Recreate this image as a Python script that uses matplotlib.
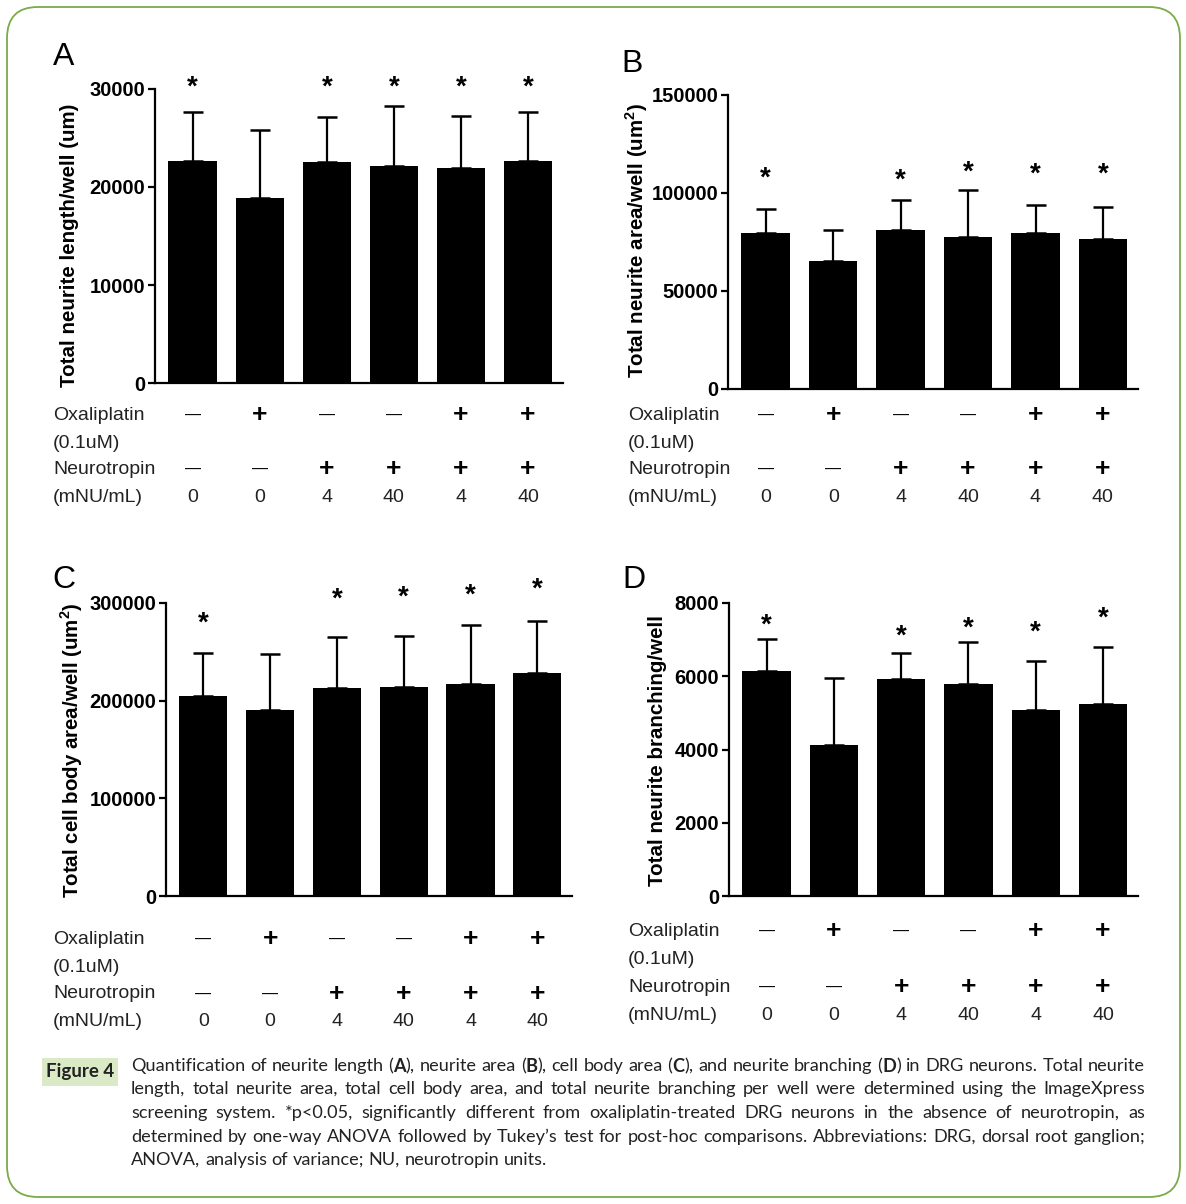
import re
import numpy as np
import matplotlib
matplotlib.use('Agg')
import matplotlib.pyplot as plt
from matplotlib.patches import FancyBboxPatch, Rectangle
from matplotlib.transforms import blended_transform_factory

W, H, DPI = 1186, 1204, 100

plt.rcParams['font.family'] = ['Liberation Sans', 'DejaVu Sans']
plt.rcParams['mathtext.fontset'] = 'custom'
plt.rcParams['mathtext.rm'] = 'Liberation Sans'
plt.rcParams['mathtext.bf'] = 'Liberation Sans:bold'

# treatment table (same for every panel)
oxali = ['—', '+', '—', '—', '+', '+']
neuro = ['—', '—', '+', '+', '+', '+']
dose = ['0', '0', '4', '40', '4', '40']

# A: total neurite length / well
length_mean = [22670, 18920, 22530, 22190, 21920, 22670]
length_top = [27650, 25770, 27100, 28230, 27200, 27650]
length_star = [30450, None, 30450, 30450, 30450, 30450]

# B: total neurite area / well
area_mean = [79550, 65390, 80900, 77530, 79550, 76690]
area_top = [91850, 81240, 96400, 101460, 93880, 93030]
area_star = [109200, None, 108200, 112100, 111200, 111200]

# C: total cell body area / well
body_mean = [204900, 190900, 213100, 214400, 217500, 228750]
body_top = [248500, 247800, 265600, 266600, 277500, 281600]
body_star = [282000, None, 306800, 309200, 310900, 317700]

# D: total neurite branching / well
branch_mean = [6136, 4127, 5927, 5800, 5091, 5245]
branch_top = [7018, 5945, 6627, 6945, 6427, 6791]
branch_star = [7473, None, 7182, 7400, 7291, 7673]

panels = [
    dict(letter='A', mean=length_mean, top=length_top, star=length_star,
         ticks=[0, 10000, 20000, 30000], rect=(155, 89, 563, 383),
         ylabel='Total neurite length/well (um)', ylab_xy=(70, 245),
         letter_xy=(53, 57), table_x=53, rows=(415, 443, 469, 497)),
    dict(letter='B', mean=area_mean, top=area_top, star=area_star,
         ticks=[0, 50000, 100000, 150000], rect=(728, 95, 1138, 389),
         ylabel=r'Total neurite area/well (um$^{\mathbf{2}}$)', ylab_xy=(637, 240),
         letter_xy=(621, 64), table_x=628, rows=(415, 443, 469, 497)),
    dict(letter='C', mean=body_mean, top=body_top, star=body_star,
         ticks=[0, 100000, 200000, 300000], rect=(166, 603, 572, 896),
         ylabel=r'Total cell body area/well (um$^{\mathbf{2}}$)', ylab_xy=(72, 750),
         letter_xy=(52, 580), table_x=53, rows=(939, 967, 994, 1022)),
    dict(letter='D', mean=branch_mean, top=branch_top, star=branch_star,
         ticks=[0, 2000, 4000, 6000, 8000], rect=(729, 603, 1138, 896),
         ylabel='Total neurite branching/well', ylab_xy=(657, 750),
         letter_xy=(622, 580), table_x=628, rows=(931, 959, 987, 1015)),
]

fig = plt.figure(figsize=(W / DPI, H / DPI), dpi=DPI)


def fx(x):
    return x / W


def fy(y):
    return 1 - y / H


# rounded frame
fig.patches.append(FancyBboxPatch((fx(7), fy(1197)), fx(1173), 1190 / H,
                                  boxstyle='round,pad=0,rounding_size=0.026',
                                  transform=fig.transFigure, fill=False,
                                  ec='#7aab48', lw=1.3))

for p in panels:
    x0, y0, x1, y1 = p['rect']
    ax = fig.add_axes([fx(x0), fy(y1), (x1 - x0) / W, (y1 - y0) / H])
    pos = np.arange(len(p['mean']))
    mean = np.array(p['mean'])
    err = np.array(p['top']) - mean
    ax.bar(pos, mean, width=0.72, color='black', zorder=2)
    ax.errorbar(pos, mean, yerr=[np.zeros_like(err), err], fmt='none',
                ecolor='black', elinewidth=1.6, capsize=7.5, capthick=1.8, zorder=1)
    for i, s in enumerate(p['star']):
        if s is not None:
            ax.annotate('*', (i, s), xytext=(0, -7.5), textcoords='offset points',
                        ha='center', va='baseline', fontsize=20, fontweight='bold',
                        annotation_clip=False)
    ax.set_xlim(-0.56, 5.52)
    ax.set_ylim(0, p['ticks'][-1])
    ax.set_yticks(p['ticks'])
    ax.set_yticklabels([str(t) for t in p['ticks']], fontsize=14.5, fontweight='bold')
    ax.set_xticks([])
    for sp in ['top', 'right']:
        ax.spines[sp].set_visible(False)
    for sp in ['left', 'bottom']:
        ax.spines[sp].set_linewidth(1.6)
    ax.tick_params(axis='y', length=5, width=1.6, pad=2)
    ax.patch.set_alpha(0)

    fig.text(fx(p['ylab_xy'][0]), fy(p['ylab_xy'][1]), p['ylabel'], rotation=90,
             ha='center', va='center', fontsize=14.8, fontweight='bold')
    fig.text(fx(p['letter_xy'][0]), fy(p['letter_xy'][1]), p['letter'],
             ha='left', va='center', fontsize=23)

    # treatment rows under the bars
    tr = blended_transform_factory(ax.transData, fig.transFigure)
    r = p['rows']
    lx = fx(p['table_x'])
    for txt, yy in zip(['Oxaliplatin', '(0.1uM)', 'Neurotropin', '(mNU/mL)'], r):
        fig.text(lx, fy(yy), txt, ha='left', va='center', fontsize=14, color='#222222')
    for i in range(len(pos)):
        for sym, yy in [(oxali[i], r[0]), (neuro[i], r[2])]:
            if sym == '+':
                ax.text(i, fy(yy), '+', transform=tr, ha='center', va='center',
                        fontsize=19, fontweight='bold', clip_on=False)
            else:
                ax.text(i, fy(yy), '—', transform=tr, ha='center', va='center',
                        fontsize=11.5, clip_on=False)
        ax.text(i, fy(r[3]), dose[i], transform=tr, ha='center', va='center',
                fontsize=14, color='#222222', clip_on=False)

# caption
cap_font = ['Lato', 'DejaVu Sans']
fig.patches.append(Rectangle((fx(42), fy(1086)), 76 / W, 28 / H, transform=fig.transFigure,
                             fc='#dbeac6', ec='none'))
fig.text(fx(80), fy(1072), 'Figure 4', ha='center', va='center', fontsize=13.5,
         fontweight='bold', family=cap_font, color='#222222')

caption = [
    'Quantification of neurite length ({A}), neurite area ({B}), cell body area ({C}), and neurite branching ({D}) in DRG neurons. Total neurite',
    'length, total neurite area, total cell body area, and total neurite branching per well were determined using the ImageXpress',
    'screening system. *p<0.05, significantly different from oxaliplatin-treated DRG neurons in the absence of neurotropin, as',
    'determined by one-way ANOVA followed by Tukey’s test for post-hoc comparisons. Abbreviations: DRG, dorsal root ganglion;',
    'ANOVA, analysis of variance; NU, neurotropin units.',
]
cap_left, cap_right = 131, 1145
line_y = [1066, 1089, 1113, 1137, 1160]
renderer = fig.canvas.get_renderer()


def segments(word):
    out = []
    for part in re.split(r'(\{[^}]*\})', word):
        if not part:
            continue
        if part.startswith('{'):
            out.append((part[1:-1], 'bold'))
        else:
            out.append((part, 'normal'))
    return out


def measure(s, size, wt='normal'):
    t = fig.text(0, 0, s, fontsize=size, family=cap_font, fontweight=wt)
    w = t.get_window_extent(renderer).width
    t.remove()
    return w


# size at which the first line just fills the block with natural spaces
probe = 10
nat = measure(caption[0].replace('{', '').replace('}', ''), probe)
cap_size = probe * (cap_right - cap_left) / nat * 0.995

# justified lines, last one left aligned
for li, line in enumerate(caption):
    words = [segments(w) for w in line.split(' ')]
    widths = [sum(measure(s, cap_size, wt) for s, wt in w) for w in words]
    if li == len(caption) - 1:
        gap = measure('a a', cap_size) - measure('aa', cap_size)
    else:
        gap = (cap_right - cap_left - sum(widths)) / (len(words) - 1)
    x = cap_left
    for w, wd in zip(words, widths):
        xx = x
        for s, wt in w:
            fig.text(fx(xx), fy(line_y[li]), s, fontsize=cap_size, family=cap_font,
                     fontweight=wt, ha='left', va='center', color='#222222')
            xx += measure(s, cap_size, wt)
        x += wd + gap

fig.savefig('out.png', dpi=DPI)
